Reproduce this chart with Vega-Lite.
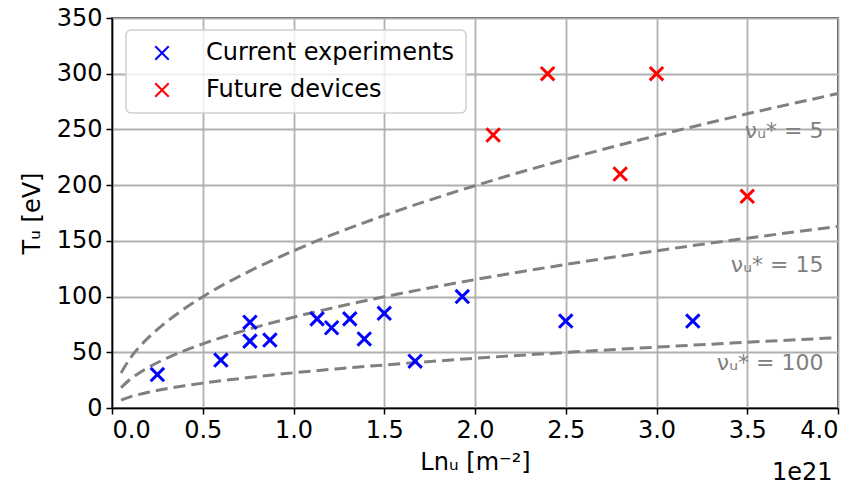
{
  "$schema": "https://vega.github.io/schema/vega-lite/v6.json",
  "autosize": {"type": "none"},
  "width": 726,
  "height": 390,
  "padding": {"left": 112, "top": 18, "right": 20, "bottom": 80},
  "background": "white",
  "config": {
    "font": "DejaVu Sans",
    "view": {"stroke": "black", "strokeWidth": 1.5},
    "legend": {"strokeWidth": 1.5},
    "axis": {
      "labelFont": "DejaVu Sans",
      "titleFont": "DejaVu Sans",
      "labelFontSize": 24,
      "titleFontSize": 24,
      "titleFontWeight": "normal",
      "labelColor": "black",
      "titleColor": "black",
      "domainColor": "black",
      "domainWidth": 1.5,
      "tickColor": "black",
      "tickWidth": 1.5,
      "tickSize": 6,
      "gridColor": "#b0b0b0",
      "gridWidth": 1.8,
      "labelPadding": 4
    }
  },
  "datasets": {
    "points": [
      {"Ln": 0.25, "T": 30, "group": "Current experiments"},
      {"Ln": 0.6, "T": 43, "group": "Current experiments"},
      {"Ln": 0.76, "T": 77, "group": "Current experiments"},
      {"Ln": 0.76, "T": 60, "group": "Current experiments"},
      {"Ln": 0.87, "T": 61, "group": "Current experiments"},
      {"Ln": 1.13, "T": 80, "group": "Current experiments"},
      {"Ln": 1.21, "T": 72, "group": "Current experiments"},
      {"Ln": 1.31, "T": 80, "group": "Current experiments"},
      {"Ln": 1.39, "T": 62, "group": "Current experiments"},
      {"Ln": 1.5, "T": 85, "group": "Current experiments"},
      {"Ln": 1.67, "T": 42, "group": "Current experiments"},
      {"Ln": 1.93, "T": 100, "group": "Current experiments"},
      {"Ln": 2.5, "T": 78, "group": "Current experiments"},
      {"Ln": 3.2, "T": 78, "group": "Current experiments"},
      {"Ln": 2.1, "T": 245, "group": "Future devices"},
      {"Ln": 2.4, "T": 300, "group": "Future devices"},
      {"Ln": 2.8, "T": 210, "group": "Future devices"},
      {"Ln": 3.0, "T": 300, "group": "Future devices"},
      {"Ln": 3.5, "T": 190, "group": "Future devices"}
    ],
    "curves": [
      {"nu": 5, "Ln": 0.05, "T": 31.5},
      {"nu": 5, "Ln": 0.1, "T": 44.6},
      {"nu": 5, "Ln": 0.15, "T": 54.6},
      {"nu": 5, "Ln": 0.2, "T": 63.1},
      {"nu": 5, "Ln": 0.3, "T": 77.3},
      {"nu": 5, "Ln": 0.4, "T": 89.2},
      {"nu": 5, "Ln": 0.5, "T": 99.8},
      {"nu": 5, "Ln": 0.75, "T": 122.2},
      {"nu": 5, "Ln": 1.0, "T": 141.1},
      {"nu": 5, "Ln": 1.25, "T": 157.8},
      {"nu": 5, "Ln": 1.5, "T": 172.8},
      {"nu": 5, "Ln": 2.0, "T": 199.5},
      {"nu": 5, "Ln": 2.5, "T": 223.1},
      {"nu": 5, "Ln": 3.0, "T": 244.4},
      {"nu": 5, "Ln": 3.5, "T": 264.0},
      {"nu": 5, "Ln": 4.0, "T": 282.2},
      {"nu": 15, "Ln": 0.05, "T": 18.2},
      {"nu": 15, "Ln": 0.1, "T": 25.8},
      {"nu": 15, "Ln": 0.15, "T": 31.5},
      {"nu": 15, "Ln": 0.2, "T": 36.4},
      {"nu": 15, "Ln": 0.3, "T": 44.6},
      {"nu": 15, "Ln": 0.4, "T": 51.5},
      {"nu": 15, "Ln": 0.5, "T": 57.6},
      {"nu": 15, "Ln": 0.75, "T": 70.5},
      {"nu": 15, "Ln": 1.0, "T": 81.5},
      {"nu": 15, "Ln": 1.25, "T": 91.1},
      {"nu": 15, "Ln": 1.5, "T": 99.8},
      {"nu": 15, "Ln": 2.0, "T": 115.2},
      {"nu": 15, "Ln": 2.5, "T": 128.8},
      {"nu": 15, "Ln": 3.0, "T": 141.1},
      {"nu": 15, "Ln": 3.5, "T": 152.4},
      {"nu": 15, "Ln": 4.0, "T": 162.9},
      {"nu": 100, "Ln": 0.05, "T": 7.1},
      {"nu": 100, "Ln": 0.1, "T": 10.0},
      {"nu": 100, "Ln": 0.15, "T": 12.2},
      {"nu": 100, "Ln": 0.2, "T": 14.1},
      {"nu": 100, "Ln": 0.3, "T": 17.3},
      {"nu": 100, "Ln": 0.4, "T": 20.0},
      {"nu": 100, "Ln": 0.5, "T": 22.3},
      {"nu": 100, "Ln": 0.75, "T": 27.3},
      {"nu": 100, "Ln": 1.0, "T": 31.6},
      {"nu": 100, "Ln": 1.25, "T": 35.3},
      {"nu": 100, "Ln": 1.5, "T": 38.6},
      {"nu": 100, "Ln": 2.0, "T": 44.6},
      {"nu": 100, "Ln": 2.5, "T": 49.9},
      {"nu": 100, "Ln": 3.0, "T": 54.6},
      {"nu": 100, "Ln": 3.5, "T": 59.0},
      {"nu": 100, "Ln": 4.0, "T": 63.1}
    ],
    "labels": [
      {"label": "νᵤ* = 5", "lx": 3.92, "ly": 249},
      {"label": "νᵤ* = 15", "lx": 3.92, "ly": 128},
      {"label": "νᵤ* = 100", "lx": 3.92, "ly": 40}
    ]
  },
  "layer": [
    {
      "data": {"name": "curves"},
      "mark": {"type": "line", "color": "#808080", "strokeWidth": 3, "strokeDash": [12, 6], "interpolate": "monotone"},
      "encoding": {
        "x": {
          "field": "Ln", "type": "quantitative",
          "scale": {"domain": [0, 4], "nice": false, "zero": false},
          "axis": {"values": [0, 0.5, 1, 1.5, 2, 2.5, 3, 3.5, 4], "format": ".1f", "title": "Lnᵤ [m⁻²]", "titlePadding": 8}
        },
        "y": {
          "field": "T", "type": "quantitative",
          "scale": {"domain": [0, 350], "nice": false},
          "axis": {"values": [0, 50, 100, 150, 200, 250, 300, 350], "title": "Tᵤ [eV]", "titlePadding": 12}
        },
        "detail": {"field": "nu", "type": "nominal"}
      }
    },
    {
      "data": {"name": "points"},
      "mark": {"type": "point", "shape": "M-1,-1L1,1M-1,1L1,-1", "filled": false, "strokeWidth": 3, "size": 180, "opacity": 1},
      "encoding": {
        "x": {"field": "Ln", "type": "quantitative"},
        "y": {"field": "T", "type": "quantitative"},
        "color": {
          "field": "group", "type": "nominal",
          "scale": {"domain": ["Current experiments", "Future devices"], "range": ["#0000ff", "#ff0000"]},
          "legend": {
            "title": null,
            "orient": "none",
            "legendX": 14,
            "legendY": 12,
            "labelFontSize": 24,
            "labelFont": "DejaVu Sans",
            "labelColor": "black",
            "labelLimit": 500,
            "symbolType": "M-1,-1L1,1M-1,1L1,-1",
            "symbolSize": 180,
            "symbolStrokeWidth": 2,
            "symbolOffset": 13,
            "labelOffset": 32,
            "rowPadding": 13,
            "padding": 11,
            "fillColor": "rgba(255,255,255,0.8)",
            "strokeColor": "#d0d0d0",
            "cornerRadius": 5
          }
        }
      }
    },
    {
      "data": {"name": "labels"},
      "mark": {"type": "text", "align": "right", "baseline": "middle", "fontSize": 22, "color": "#808080"},
      "encoding": {
        "x": {"field": "lx", "type": "quantitative"},
        "y": {"field": "ly", "type": "quantitative"},
        "text": {"field": "label"}
      }
    },
    {
      "data": {"values": [{"t": "1e21"}]},
      "mark": {"type": "text", "align": "right", "baseline": "middle", "fontSize": 24, "color": "black"},
      "encoding": {
        "x": {"datum": 3.97, "type": "quantitative"},
        "y": {"datum": -58, "type": "quantitative"},
        "text": {"field": "t"}
      }
    }
  ]
}
